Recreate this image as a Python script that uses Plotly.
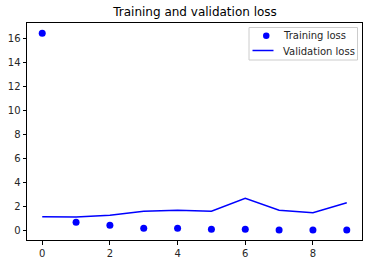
import plotly.graph_objects as go

epochs = [0, 1, 2, 3, 4, 5, 6, 7, 8, 9]
training_loss = [16.42, 0.67, 0.42, 0.17, 0.17, 0.08, 0.08, 0.02, 0.02, 0.02]
validation_loss = [1.13, 1.1, 1.25, 1.58, 1.67, 1.58, 2.67, 1.67, 1.47, 2.3]
series_names = ["Training loss", "Validation loss"]

W, H = 368, 264
L, R, T, B = 27, 6, 23, 24
PW, PH = W - L - R, H - T - B

def px(x):
    return (x - L) / PW

def py(y):
    return (H - B - y) / PH

fig = go.Figure()
fig.add_trace(go.Scatter(x=epochs, y=training_loss, mode="markers", name=series_names[0],
                         marker=dict(color="#0000ff", size=7), showlegend=False))
fig.add_trace(go.Scatter(x=epochs, y=validation_loss, mode="lines", name=series_names[1],
                         line=dict(color="#0000ff", width=1.5), showlegend=False))

axis_common = dict(showline=True, mirror=True, linecolor="black", linewidth=1,
                   showgrid=False, zeroline=False, ticks="outside", ticklen=3.5,
                   tickwidth=1, tickcolor="black",
                   tickfont=dict(family="DejaVu Sans", size=10, color="#262626"))

# custom matplotlib-like legend
shapes = [
    dict(type="rect", xref="paper", yref="paper", x0=px(249), x1=px(357.5), y0=py(60), y1=py(27.5),
         line=dict(color="#cccccc", width=1), fillcolor="rgba(255,255,255,0.8)", layer="above"),
    dict(type="circle", xref="paper", yref="paper", x0=px(263), x1=px(269.5), y0=py(39), y1=py(32.5),
         line=dict(color="#0000ff", width=0), fillcolor="#0000ff", layer="above"),
    dict(type="line", xref="paper", yref="paper", x0=px(252.5), x1=px(273.5), y0=py(50.5), y1=py(50.5),
         line=dict(color="#0000ff", width=1.5), layer="above"),
]
annotations = [
    dict(text=series_names[0], xref="paper", yref="paper", x=px(281), y=py(36), xanchor="left",
         yanchor="middle", showarrow=False, font=dict(family="DejaVu Sans", size=10, color="#262626")),
    dict(text=series_names[1], xref="paper", yref="paper", x=px(281), y=py(51), xanchor="left",
         yanchor="middle", showarrow=False, font=dict(family="DejaVu Sans", size=10, color="#262626")),
]

fig.update_layout(
    width=W, height=H,
    margin=dict(l=L, r=R, t=T, b=B),
    paper_bgcolor="white", plot_bgcolor="white",
    title=dict(text="Training and validation loss", x=0.53, xanchor="center", y=0.955, yanchor="middle",
               font=dict(family="DejaVu Sans", size=12, color="black")),
    xaxis=dict(range=[-0.45, 9.45], tickvals=[0, 2, 4, 6, 8], **axis_common),
    yaxis=dict(range=[-0.81, 17.27], tickvals=[0, 2, 4, 6, 8, 10, 12, 14, 16], **axis_common),
    shapes=shapes,
    annotations=annotations,
    showlegend=False,
)

fig.write_html("out.html")
